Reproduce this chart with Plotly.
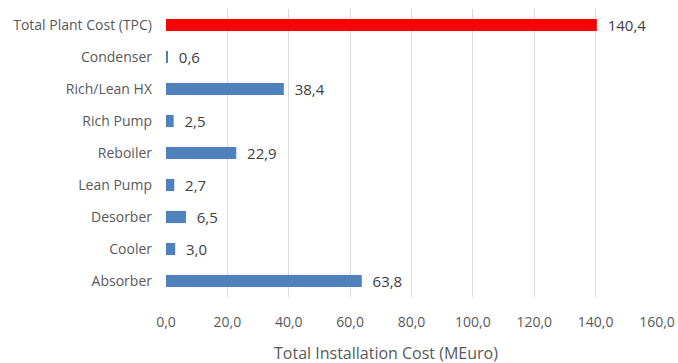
import plotly.graph_objects as go

# Installation cost per plant component (MEuro), bottom to top
components = ["Absorber", "Cooler", "Desorber", "Lean Pump", "Reboiler",
              "Rich Pump", "Rich/Lean HX", "Condenser", "Total Plant Cost (TPC)"]
costs = [63.8, 3.0, 6.5, 2.7, 22.9, 2.5, 38.4, 0.6, 140.4]
bar_colors = ["#4F81BD"] * 8 + ["#FF0000"]
x_ticks = [0, 20, 40, 60, 80, 100, 120, 140, 160]
x_title = "Total Installation Cost (MEuro)"

# leading space keeps the value label clear of the bar end
labels = ["  " + f"{v:.1f}".replace(".", ",") for v in costs]
font_family = "Open Sans, Segoe UI, sans-serif"

fig = go.Figure(go.Bar(
    x=costs, y=components, orientation="h",
    marker=dict(color=bar_colors, line=dict(width=0)),
    text=labels, textposition="outside", cliponaxis=False,
    constraintext="none",
    textfont=dict(family=font_family, size=15, color="#404040"),
    width=0.38,
))

fig.update_layout(
    width=678, height=363,
    margin=dict(l=166, r=21, t=9, b=66, autoexpand=False),
    plot_bgcolor="white", paper_bgcolor="white",
    separators=",.",
    showlegend=False,
    font=dict(family=font_family, size=14, color="#595959"),
    xaxis=dict(
        range=[0, 160], tickvals=x_ticks, tickformat=".1f",
        showgrid=True, gridcolor="#D9D9D9", gridwidth=1,
        zeroline=False, showline=False, automargin=False,
        ticks="", ticklabelstandoff=15,
        tickfont=dict(size=14, color="#595959"),
    ),
    yaxis=dict(
        categoryorder="array", categoryarray=components,
        showgrid=False, zeroline=False, showline=False, automargin=False,
        ticks="", ticklabelstandoff=13,
        tickfont=dict(size=14, color="#595959"),
        range=[-0.5, 8.5],
    ),
    annotations=[dict(
        text=x_title, xref="paper", yref="paper",
        x=0.448, y=-0.194, xanchor="center", yanchor="middle",
        showarrow=False, font=dict(size=16, color="#595959"),
    )],
)

fig.write_html("out.html")
